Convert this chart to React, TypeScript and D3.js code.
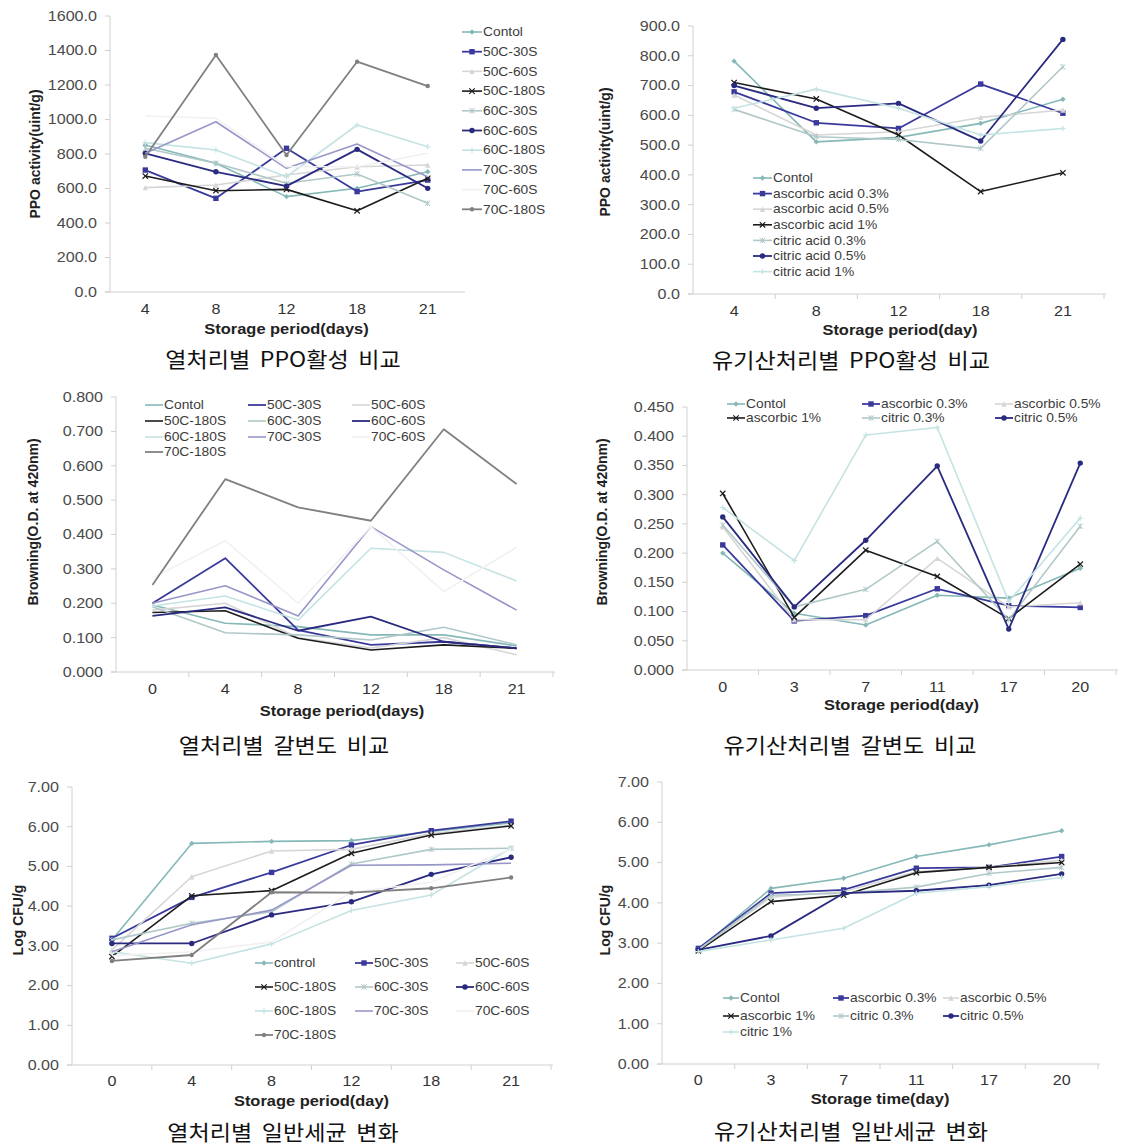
import React from "react";
import * as d3 from "d3";

// ---------- data ----------
const heatNames = ["Contol", "50C-30S", "50C-60S", "50C-180S", "60C-30S", "60C-60S", "60C-180S", "70C-30S", "70C-60S", "70C-180S"];
const heatNamesCfu = ["control", "50C-30S", "50C-60S", "50C-180S", "60C-30S", "60C-60S", "60C-180S", "70C-30S", "70C-60S", "70C-180S"];
const acidNamesLong = ["Contol", "ascorbic acid 0.3%", "ascorbic acid 0.5%", "ascorbic acid 1%", "citric acid 0.3%", "citric acid 0.5%", "citric acid 1%"];
const acidNamesShort = ["Contol", "ascorbic 0.3%", "ascorbic 0.5%", "ascorbic 1%", "citric 0.3%", "citric 0.5%", "citric 1%"];

const ppoDays = ["4", "8", "12", "18", "21"];
const heatPpo = [
  [852, 746, 553, 601, 697],
  [707, 543, 833, 582, 649],
  [605, 620, 678, 726, 736],
  [672, 587, 595, 471, 659],
  [833, 746, 630, 684, 514],
  [804, 697, 614, 827, 601],
  [866, 823, 668, 968, 842],
  [804, 987, 717, 858, 668],
  [1020, 1007, 726, 726, 804],
  [784, 1374, 794, 1335, 1194],
];
const acidPpo = [
  [782, 511, 526, 573, 654],
  [679, 575, 556, 705, 607],
  [668, 534, 545, 593, 618],
  [710, 655, 534, 344, 407],
  [620, 528, 519, 489, 763],
  [700, 624, 640, 514, 855],
  [624, 688, 624, 534, 556],
];

const heatBrownDays = ["0", "4", "8", "12", "18", "21"];
const heatBrown = [
  [0.195, 0.142, 0.132, 0.108, 0.108, 0.076],
  [0.2, 0.331, 0.122, 0.079, 0.088, 0.069],
  [0.18, 0.2, 0.1, 0.07, 0.1, 0.05],
  [0.173, 0.178, 0.098, 0.064, 0.079, 0.069],
  [0.19, 0.114, 0.108, 0.093, 0.13, 0.079],
  [0.163, 0.188, 0.12, 0.161, 0.088, 0.069],
  [0.192, 0.221, 0.151, 0.36, 0.348, 0.265],
  [0.2, 0.251, 0.163, 0.423, 0.297, 0.18],
  [0.273, 0.382, 0.2, 0.423, 0.234, 0.363],
  [0.253, 0.561, 0.479, 0.44, 0.706, 0.547],
];

const acidDays = ["0", "3", "7", "11", "17", "20"];
const acidBrown = [
  [0.2, 0.097, 0.077, 0.128, 0.123, 0.174],
  [0.214, 0.084, 0.093, 0.139, 0.11, 0.107],
  [0.245, 0.086, 0.086, 0.191, 0.108, 0.115],
  [0.302, 0.09, 0.205, 0.16, 0.088, 0.181],
  [0.248, 0.108, 0.138, 0.22, 0.086, 0.246],
  [0.262, 0.108, 0.222, 0.349, 0.07, 0.354],
  [0.278, 0.187, 0.402, 0.415, 0.117, 0.26],
];

const heatCfuDays = ["0", "4", "8", "12", "18", "21"];
const heatCfu = [
  [3.15, 5.58, 5.63, 5.65, 5.88, 6.1],
  [3.19, 4.22, 4.85, 5.54, 5.9, 6.14],
  [2.9, 4.74, 5.39, 5.43, 5.83, 6.04],
  [2.73, 4.26, 4.39, 5.33, 5.79, 6.02],
  [3.15, 3.57, 3.86, 5.06, 5.43, 5.46],
  [3.06, 3.06, 3.78, 4.11, 4.8, 5.23],
  [2.85, 2.56, 3.05, 3.89, 4.28, 5.46],
  [2.85, 3.53, 3.9, 5.03, 5.04, 5.08],
  [2.75, 2.85, 3.1, 4.35, 4.6, 5.45],
  [2.62, 2.77, 4.35, 4.34, 4.45, 4.72],
];
const acidCfu = [
  [2.83, 4.36, 4.61, 5.15, 5.44, 5.79],
  [2.87, 4.24, 4.32, 4.86, 4.88, 5.15],
  [2.83, 4.14, 4.28, 4.77, 4.88, 5.06],
  [2.81, 4.03, 4.19, 4.75, 4.88, 5.0],
  [2.83, 4.19, 4.24, 4.39, 4.73, 4.88],
  [2.83, 3.18, 4.24, 4.3, 4.44, 4.72],
  [2.79, 3.08, 3.37, 4.24, 4.4, 4.63],
];

// ---------- styles ----------
type St = { color: string; marker: string; width: number };
const heatStyles: St[] = [
  { color: "#86b8b8", marker: "diamond", width: 1.6 },
  { color: "#3a3a9c", marker: "square", width: 1.8 },
  { color: "#d6d6d6", marker: "triangle", width: 1.6 },
  { color: "#1c1c1c", marker: "x", width: 1.6 },
  { color: "#b0c8c8", marker: "star", width: 1.6 },
  { color: "#2a2a80", marker: "circle", width: 1.8 },
  { color: "#c4e3e3", marker: "plus", width: 1.6 },
  { color: "#9896c9", marker: "none", width: 1.6 },
  { color: "#f1f1f1", marker: "none", width: 1.6 },
  { color: "#808080", marker: "dot", width: 1.8 },
];
const acidStyles: St[] = [
  { color: "#86b8b8", marker: "diamond", width: 1.6 },
  { color: "#3a3a9c", marker: "square", width: 1.8 },
  { color: "#d6d6d6", marker: "triangle", width: 1.6 },
  { color: "#1c1c1c", marker: "x", width: 1.6 },
  { color: "#b0c8c8", marker: "star", width: 1.6 },
  { color: "#2a2a80", marker: "circle", width: 1.8 },
  { color: "#c4e3e3", marker: "plus", width: 1.6 },
];

const FONT = "'Liberation Sans', Arial, sans-serif";
const KFONT = "'Noto Sans CJK KR', sans-serif";
const SX = 1.15;

function T(props: {
  x: number; y: number; anchor?: string; size: number; weight?: string; fill: string;
  family?: string; sx?: number; dy?: string; wordSpacing?: number; children: React.ReactNode;
}) {
  const sx = props.sx ?? SX;
  return (
    <text
      transform={`translate(${props.x},${props.y}) scale(${sx},1)`}
      textAnchor={props.anchor ?? "start"}
      dy={props.dy}
      fontSize={props.size}
      fontWeight={props.weight ?? "normal"}
      fill={props.fill}
      fontFamily={props.family ?? FONT}
      style={props.wordSpacing ? { wordSpacing: `${props.wordSpacing}px` } : undefined}
    >
      {props.children}
    </text>
  );
}

function Marker({ x, y, kind, color }: { x: number; y: number; kind: string; color: string }) {
  const r = 2.7;
  switch (kind) {
    case "diamond":
      return <path d={`M${x},${y - r}L${x + r},${y}L${x},${y + r}L${x - r},${y}Z`} fill={color} />;
    case "square":
      return <rect x={x - r} y={y - r} width={2 * r} height={2 * r} fill={color} />;
    case "triangle":
      return <path d={`M${x},${y - r}L${x + r},${y + r}L${x - r},${y + r}Z`} fill={color} />;
    case "circle":
      return <circle cx={x} cy={y} r={r} fill={color} />;
    case "dot":
      return <circle cx={x} cy={y} r={2.2} fill={color} />;
    case "x":
      return <path d={`M${x - r},${y - r}L${x + r},${y + r}M${x - r},${y + r}L${x + r},${y - r}`} stroke={color} strokeWidth={1.2} />;
    case "plus":
      return <path d={`M${x - r},${y}L${x + r},${y}M${x},${y - r}L${x},${y + r}`} stroke={color} strokeWidth={1.2} />;
    case "star":
      return <path d={`M${x - r},${y - r}L${x + r},${y + r}M${x - r},${y + r}L${x + r},${y - r}M${x},${y - r}L${x},${y + r}`} stroke={color} strokeWidth={1} />;
    default:
      return null;
  }
}

type PanelProps = {
  days: string[];
  data: number[][];
  names: string[];
  styles: St[];
  xl: number; xr: number; yt: number; yb: number;
  max: number; step: number; digits: number;
  yTitle: string; yTitleX: number; yTitleY: number;
  xTitle: string; xTitleY: number; xTitleX?: number;
  caption: string; captionX: number; captionY: number;
  xTicks: boolean; markers: boolean;
  legendCols: number[]; legendRows: number[]; legendLine: number;
  xLabelY: number;
};

function Panel(p: PanelProps) {
  const x = d3.scaleBand().domain(p.days).range([p.xl, p.xr]).padding(0);
  const y = d3.scaleLinear().domain([0, p.max]).range([p.yb, p.yt]);
  const ticks = d3.range(0, p.max + p.step / 2, p.step);
  const cx = (i: number) => (x(p.days[i]) as number) + x.bandwidth() / 2;
  const line = d3.line<number>().x((_, i) => cx(i)).y((v) => y(v));
  const nCols = p.legendCols.length;
  return (
    <g>
      <line x1={p.xl} x2={p.xl} y1={p.yt} y2={p.yb} stroke="#d0d0d0" strokeWidth={1} />
      <line x1={p.xl - 5} x2={p.xr + 2} y1={p.yb} y2={p.yb} stroke="#d0d0d0" strokeWidth={1} />
      {ticks.map((t) => (
        <g key={t}>
          <line x1={p.xl - 5} x2={p.xl} y1={y(t)} y2={y(t)} stroke="#d0d0d0" />
          <T x={p.xl - 13} y={y(t)} dy="0.35em" anchor="end" size={14} fill="#4a4a4a">
            {t.toFixed(p.digits)}
          </T>
        </g>
      ))}
      {p.xTicks &&
        p.days.map((d) => (
          <line key={"t" + d} x1={(x(d) as number) + x.bandwidth()} x2={(x(d) as number) + x.bandwidth()} y1={p.yb} y2={p.yb + 5} stroke="#d0d0d0" />
        ))}
      {p.days.map((d, i) => (
        <T key={"l" + d} x={cx(i)} y={p.xLabelY} anchor="middle" size={14} fill="#333">
          {d}
        </T>
      ))}
      <T x={p.xTitleX ?? (p.xl + p.xr) / 2} y={p.xTitleY} anchor="middle" size={14.3} weight="bold" fill="#222">
        {p.xTitle}
      </T>
      <text transform={`translate(${p.yTitleX},${p.yTitleY}) rotate(-90)`} textAnchor="middle" dy="0.35em" fontSize={14} fontWeight="bold" fill="#222" fontFamily={FONT}>
        {p.yTitle}
      </text>
      <T x={p.captionX} y={p.captionY} anchor="middle" dy="0.35em" size={21} fill="#111" family={KFONT} sx={1.1} wordSpacing={4}>
        {p.caption}
      </T>
      {p.data.map((s, k) => (
        <g key={"s" + k}>
          <path d={line(s) as string} fill="none" stroke={p.styles[k].color} strokeWidth={p.styles[k].width} strokeLinejoin="round" />
          {p.markers && s.map((v, i) => <Marker key={i} x={cx(i)} y={y(v)} kind={p.styles[k].marker} color={p.styles[k].color} />)}
        </g>
      ))}
      {p.names.map((n, k) => {
        const col = k % nCols;
        const row = Math.floor(k / nCols);
        const lx = p.legendCols[col];
        const ly = p.legendRows[row];
        return (
          <g key={"lg" + k}>
            <line x1={lx} x2={lx + p.legendLine} y1={ly} y2={ly} stroke={p.styles[k].color} strokeWidth={p.styles[k].width} />
            {p.markers && <Marker x={lx + p.legendLine / 2} y={ly} kind={p.styles[k].marker} color={p.styles[k].color} />}
            <T x={lx + p.legendLine + 1} y={ly} dy="0.35em" size={12} fill="#3c3c3c">
              {n}
            </T>
          </g>
        );
      })}
    </g>
  );
}

export default function App() {
  return (
    <svg width={1122} height={1148} style={{ position: "absolute", left: 0, top: 0, background: "#fff" }}>
      <rect width={1122} height={1148} fill="#fff" />
      <Panel
        days={ppoDays} data={heatPpo} names={heatNames} styles={heatStyles}
        xl={110} xr={463} yt={16} yb={292} max={1600} step={200} digits={1}
        yTitle="PPO activity(uint/g)" yTitleX={35} yTitleY={154}
        xTitle="Storage period(days)" xTitleY={334}
        caption="열처리별 PPO활성 비교" captionX={283} captionY={360}
        xTicks={false} markers={true}
        legendCols={[462]} legendRows={d3.range(10).map((i) => 32 + i * 19.7)} legendLine={20}
        xLabelY={314}
      />
      <Panel
        days={ppoDays} data={acidPpo} names={acidNamesLong} styles={acidStyles}
        xl={693} xr={1104} yt={26} yb={294} max={900} step={100} digits={1}
        yTitle="PPO activity(uint/g)" yTitleX={605} yTitleY={152}
        xTitle="Storage period(day)" xTitleY={335} xTitleX={900}
        caption="유기산처리별 PPO활성 비교" captionX={851} captionY={361}
        xTicks={true} markers={true}
        legendCols={[753]} legendRows={d3.range(7).map((i) => 178 + i * 15.6)} legendLine={19}
        xLabelY={316}
      />
      <Panel
        days={heatBrownDays} data={heatBrown} names={heatNames} styles={heatStyles}
        xl={116} xr={553} yt={397} yb={672} max={0.8} step={0.1} digits={3}
        yTitle="Browning(O.D. at 420nm)" yTitleX={33} yTitleY={522}
        xTitle="Storage period(days)" xTitleY={716} xTitleX={342}
        caption="열처리별 갈변도 비교" captionX={284} captionY={746}
        xTicks={true} markers={false}
        legendCols={[145, 248, 352]} legendRows={[405, 421, 437, 452]} legendLine={18}
        xLabelY={694}
      />
      <Panel
        days={acidDays} data={acidBrown} names={acidNamesShort.slice(0, 6)} styles={acidStyles}
        xl={687} xr={1116} yt={407} yb={670} max={0.45} step={0.05} digits={3}
        yTitle="Browning(O.D. at 420nm)" yTitleX={602} yTitleY={522}
        xTitle="Storage period(day)" xTitleY={710}
        caption="유기산처리별 갈변도 비교" captionX={850} captionY={746}
        xTicks={true} markers={true}
        legendCols={[727, 862, 995]} legendRows={[404, 418]} legendLine={18}
        xLabelY={692}
      />
      <Panel
        days={heatCfuDays} data={heatCfu} names={heatNamesCfu} styles={heatStyles}
        xl={72} xr={551} yt={787} yb={1065} max={7} step={1} digits={2}
        yTitle="Log CFU/g" yTitleX={18} yTitleY={920}
        xTitle="Storage period(day)" xTitleY={1106}
        caption="열처리별 일반세균 변화" captionX={283} captionY={1133}
        xTicks={true} markers={true}
        legendCols={[255, 355, 456]} legendRows={[963, 987, 1011, 1035]} legendLine={18}
        xLabelY={1086}
      />
      <Panel
        days={acidDays} data={acidCfu} names={acidNamesShort} styles={acidStyles}
        xl={662} xr={1098} yt={782} yb={1064} max={7} step={1} digits={2}
        yTitle="Log CFU/g" yTitleX={605} yTitleY={920}
        xTitle="Storage time(day)" xTitleY={1104}
        caption="유기산처리별 일반세균 변화" captionX={851} captionY={1132}
        xTicks={true} markers={true}
        legendCols={[723, 833, 943]} legendRows={[998, 1016, 1032]} legendLine={16}
        xLabelY={1085}
      />
    </svg>
  );
}
